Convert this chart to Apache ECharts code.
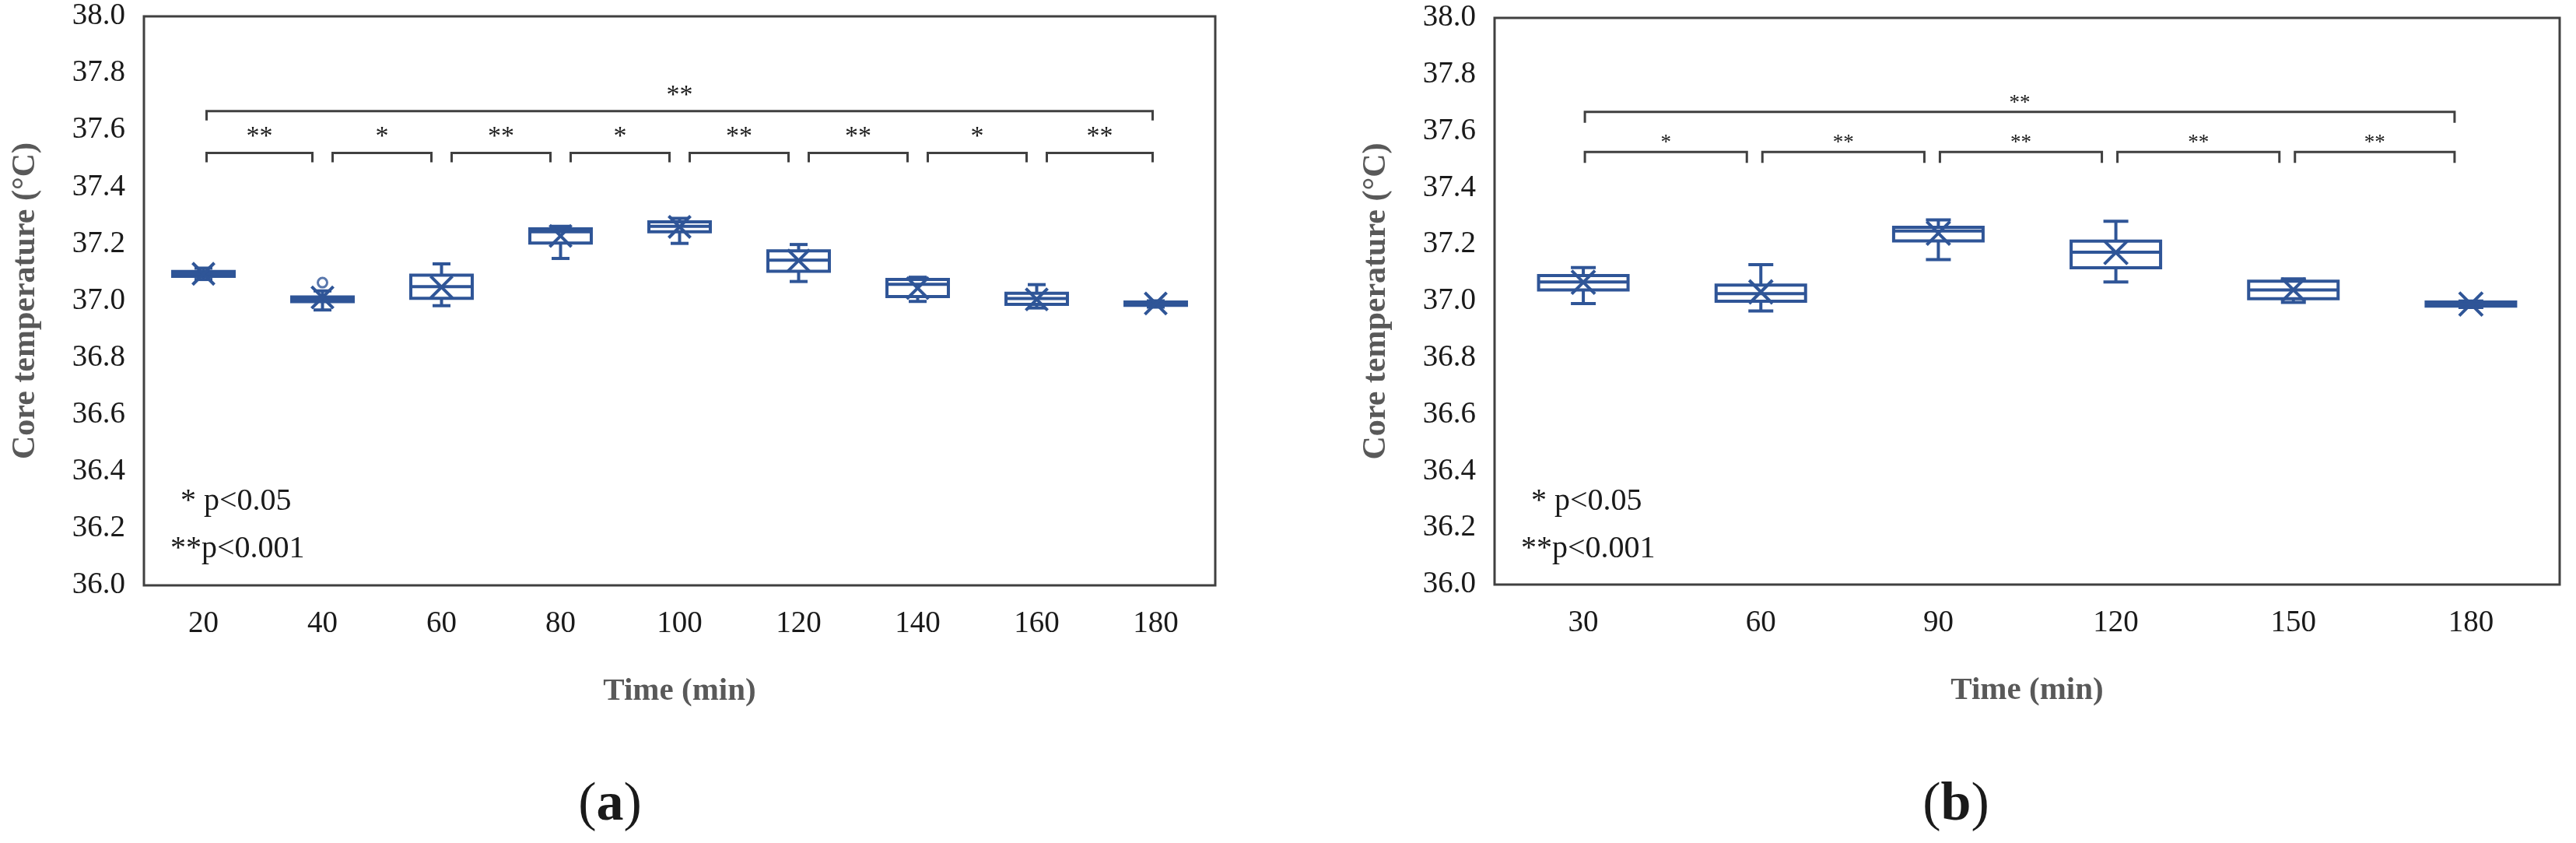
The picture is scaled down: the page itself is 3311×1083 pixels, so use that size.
<!DOCTYPE html>
<html>
<head>
<meta charset="utf-8">
<script src="https://cdn.jsdelivr.net/npm/echarts@6/dist/echarts.min.js"></script>
<style>
html,body{margin:0;padding:0;background:#fff;}
#chart{width:3311px;height:1083px;}
</style>
</head>
<body>
<div id="chart"></div>
<script>
// ---------- DATA ----------
const timesA = ['20', '40', '60', '80', '100', '120', '140', '160', '180'];
// [min, Q1, median, Q3, max]
const boxesA = [
  [37.075, 37.086, 37.095, 37.103, 37.115],
  [36.968, 36.997, 37.005, 37.014, 37.035],
  [36.983, 37.009, 37.050, 37.090, 37.130],
  [37.149, 37.203, 37.243, 37.253, 37.262],
  [37.202, 37.243, 37.262, 37.278, 37.290],
  [37.068, 37.104, 37.143, 37.176, 37.198],
  [36.998, 37.015, 37.058, 37.075, 37.083],
  [36.975, 36.988, 37.008, 37.027, 37.057],
  [36.978, 36.984, 36.990, 36.996, 37.000]
];
const meansA = [37.095, 37.012, 37.048, 37.228, 37.260, 37.142, 37.045, 37.005, 36.991];
const outliersA = [[1, 37.064]];
// [fromIndex, toIndex, bracketLevel, label]
const compareA = [
  [0, 1, 37.52, '**'], [1, 2, 37.52, '*'], [2, 3, 37.52, '**'], [3, 4, 37.52, '*'],
  [4, 5, 37.52, '**'], [5, 6, 37.52, '**'], [6, 7, 37.52, '*'], [7, 8, 37.52, '**'],
  [0, 8, 37.667, '**']
];

const timesB = ['30', '60', '90', '120', '150', '180'];
const boxesB = [
  [36.992, 37.040, 37.068, 37.091, 37.119],
  [36.966, 37.000, 37.027, 37.057, 37.129],
  [37.147, 37.213, 37.248, 37.261, 37.287],
  [37.068, 37.118, 37.173, 37.212, 37.282],
  [36.996, 37.009, 37.040, 37.071, 37.079],
  [36.978, 36.983, 36.990, 36.997, 37.001]
];
const meansB = [37.067, 37.033, 37.240, 37.172, 37.040, 36.990];
const compareB = [
  [0, 1, 37.527, '*'], [1, 2, 37.527, '**'], [2, 3, 37.527, '**'],
  [3, 4, 37.527, '**'], [4, 5, 37.527, '**'],
  [0, 5, 37.668, '**']
];

const yTicks = [36.0, 36.2, 36.4, 36.6, 36.8, 37.0, 37.2, 37.4, 37.6, 37.8, 38.0];
const legendLines = ['* p<0.05', '**p<0.001'];

// ---------- STYLE ----------
const BLUE = '#2F5597';
const FRAME = '#404040';
const FONT = 'Liberation Serif';

function boxData(boxes, means) {
  return boxes.map((b, i) => [i, b[0], b[1], b[2], b[3], b[4], means[i]]);
}

function makeBoxRender(st) {
  return function (params, api) {
    const i = api.value(0);
    const pMin = api.coord([i, api.value(1)]);
    const pQ1 = api.coord([i, api.value(2)]);
    const pMed = api.coord([i, api.value(3)]);
    const pQ3 = api.coord([i, api.value(4)]);
    const pMax = api.coord([i, api.value(5)]);
    const pMean = api.coord([i, api.value(6)]);
    const cx = pMed[0];
    const band = api.size([1, 0])[0];
    const hw = band * st.boxRatio / 2;
    const cw = st.capW / 2;
    const ms = st.markSize / 2;
    const ls = { stroke: BLUE, lineWidth: st.lw, fill: null };
    const my = pMean[1];
    return {
      type: 'group',
      children: [
        { type: 'line', shape: { x1: cx, y1: pQ3[1], x2: cx, y2: pMax[1] }, style: ls },
        { type: 'line', shape: { x1: cx - cw, y1: pMax[1], x2: cx + cw, y2: pMax[1] }, style: ls },
        { type: 'line', shape: { x1: cx, y1: pQ1[1], x2: cx, y2: pMin[1] }, style: ls },
        { type: 'line', shape: { x1: cx - cw, y1: pMin[1], x2: cx + cw, y2: pMin[1] }, style: ls },
        { type: 'rect', shape: { x: cx - hw, y: pQ3[1], width: 2 * hw, height: pQ1[1] - pQ3[1] },
          style: { stroke: BLUE, lineWidth: st.lw, fill: '#fff' } },
        { type: 'line', shape: { x1: cx - hw, y1: pMed[1], x2: cx + hw, y2: pMed[1] }, style: ls },
        { type: 'line', shape: { x1: cx - ms, y1: my - ms, x2: cx + ms, y2: my + ms }, style: ls },
        { type: 'line', shape: { x1: cx - ms, y1: my + ms, x2: cx + ms, y2: my - ms }, style: ls }
      ]
    };
  };
}

function makeBracketRender(st, lastIdx, src) {
  return function (params, api) {
    const i0 = api.value(0), i1 = api.value(1), lv = api.value(2);
    const a = api.coord([i0, lv]);
    const b = api.coord([i1, lv]);
    const x1 = a[0] + (i0 === 0 ? st.edgeStart : st.start);
    const x2 = b[0] + (i1 === lastIdx ? st.edgeEnd : st.end);
    const y = a[1];
    const label = src[params.dataIndex][3];
    return {
      type: 'group',
      children: [
        { type: 'polyline',
          shape: { points: [[x1, y + st.drop], [x1, y], [x2, y], [x2, y + st.drop]] },
          style: { stroke: FRAME, lineWidth: 3, fill: null } },
        { type: 'text',
          style: { x: (x1 + x2) / 2, y: y - st.textOff, text: label,
                   fill: '#1a1a1a', font: st.fontSize + 'px "' + FONT + '"',
                   align: 'center', verticalAlign: 'middle' } }
      ]
    };
  };
}

const gridA = { left: 185, top: 21, width: 1377, height: 731 };
const gridB = { left: 1921, top: 23, width: 1369, height: 728 };

function xAxisFor(gi, cats) {
  return {
    type: 'category', gridIndex: gi, data: cats,
    axisLine: { show: false }, axisTick: { show: false },
    axisLabel: { margin: 30, fontSize: 39, fontFamily: FONT, color: '#1a1a1a' },
    splitLine: { show: false },
    name: 'Time (min)', nameLocation: 'middle', nameGap: 116,
    nameTextStyle: { fontSize: 41, fontWeight: 'bold', fontFamily: FONT, color: '#595959' }
  };
}
function yAxisFor(gi) {
  return {
    type: 'value', gridIndex: gi, min: 36, max: 38, interval: 0.2,
    axisLine: { show: false }, axisTick: { show: false },
    splitLine: { show: false },
    axisLabel: { margin: 24, fontSize: 39, fontFamily: FONT, color: '#1a1a1a',
                 formatter: v => Number(v).toFixed(1) },
    name: 'Core temperature (°C)', nameLocation: 'middle', nameGap: 131,
    nameTextStyle: { fontSize: 42, fontWeight: 'bold', fontFamily: FONT, color: '#595959' }
  };
}

const stA = { boxRatio: 0.516, capW: 23, markSize: 28, lw: 4 };
const stB = { boxRatio: 0.504, capW: 32, markSize: 30, lw: 4 };
const brA = { start: 13, end: -13, edgeStart: 4, edgeEnd: -4, drop: 12, textOff: 20, fontSize: 34 };
const brB = { start: 2, end: -18, edgeStart: 2, edgeEnd: -21, drop: 14, textOff: 11, fontSize: 27 };

function legendGraphics(leftStar1, leftStar2) {
  return [
    { type: 'text', x: leftStar1, y: 644,
      style: { text: legendLines[0], font: '40px "' + FONT + '"', fill: '#1a1a1a', verticalAlign: 'middle' } },
    { type: 'text', x: leftStar2, y: 705,
      style: { text: legendLines[1], font: '40px "' + FONT + '"', fill: '#1a1a1a', verticalAlign: 'middle' } }
  ];
}
function panelLabel(x, letter) {
  return {
    type: 'text', x: x, y: 1035,
    style: {
      text: '{n|(}{b|' + letter + '}{n|)}',
      rich: {
        n: { fontSize: 70, fontFamily: FONT, fill: '#1a1a1a' },
        b: { fontSize: 70, fontFamily: FONT, fontWeight: 'bold', fill: '#1a1a1a' }
      },
      align: 'center', verticalAlign: 'middle'
    }
  };
}

const chart = echarts.init(document.getElementById('chart'), null, { renderer: 'canvas' });
chart.setOption({
  backgroundColor: '#fff',
  animation: false,
  grid: [
    Object.assign({ show: true, borderColor: FRAME, borderWidth: 3, backgroundColor: 'transparent' }, gridA),
    Object.assign({ show: true, borderColor: FRAME, borderWidth: 3, backgroundColor: 'transparent' }, gridB)
  ],
  xAxis: [xAxisFor(0, timesA), xAxisFor(1, timesB)],
  yAxis: [yAxisFor(0), yAxisFor(1)],
  series: [
    { type: 'custom', xAxisIndex: 0, yAxisIndex: 0, data: boxData(boxesA, meansA),
      encode: { x: 0, y: [1, 2, 3, 4, 5, 6] }, renderItem: makeBoxRender(stA), z: 3 },
    { type: 'scatter', xAxisIndex: 0, yAxisIndex: 0, data: outliersA, symbol: 'circle', symbolSize: 12,
      itemStyle: { color: '#fff', borderColor: BLUE, borderWidth: 3 }, z: 4 },
    { type: 'custom', xAxisIndex: 0, yAxisIndex: 0, data: compareA.map(c => [c[0], c[1], c[2]]),
      encode: { x: [0, 1], y: 2 }, renderItem: makeBracketRender(brA, timesA.length - 1, compareA), z: 2 },
    { type: 'custom', xAxisIndex: 1, yAxisIndex: 1, data: boxData(boxesB, meansB),
      encode: { x: 0, y: [1, 2, 3, 4, 5, 6] }, renderItem: makeBoxRender(stB), z: 3 },
    { type: 'custom', xAxisIndex: 1, yAxisIndex: 1, data: compareB.map(c => [c[0], c[1], c[2]]),
      encode: { x: [0, 1], y: 2 }, renderItem: makeBracketRender(brB, timesB.length - 1, compareB), z: 2 }
  ],
  graphic: [].concat(
    legendGraphics(232, 219),
    legendGraphics(1968, 1955),
    [panelLabel(784, 'a'), panelLabel(2514, 'b')]
  )
});
</script>
</body>
</html>
